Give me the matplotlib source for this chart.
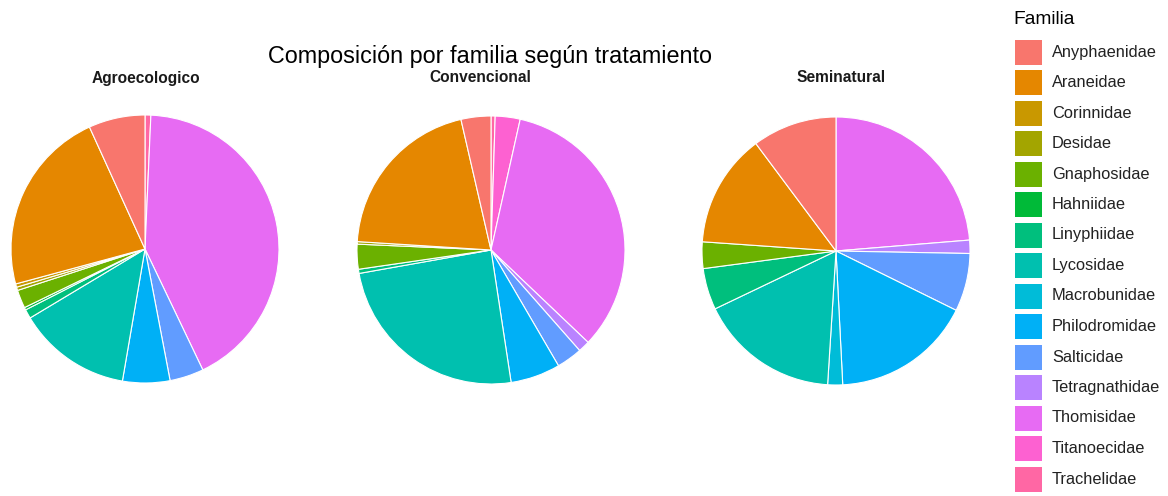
import matplotlib
matplotlib.use("Agg")
import matplotlib.pyplot as plt
from matplotlib.patches import Rectangle

plt.rcParams['font.family'] = ['Liberation Sans', 'DejaVu Sans']

families = ["Anyphaenidae", "Araneidae", "Corinnidae", "Desidae", "Gnaphosidae",
            "Hahniidae", "Linyphiidae", "Lycosidae", "Macrobunidae", "Philodromidae",
            "Salticidae", "Tetragnathidae", "Thomisidae", "Titanoecidae", "Trachelidae"]
colors = ["#F8766D", "#E58700", "#C99800", "#A3A500", "#6BB100", "#00BA38", "#00BF7D",
          "#00C0AF", "#00BCD8", "#00B0F6", "#619CFF", "#B983FF", "#E76BF3", "#FD61D1",
          "#FF67A4"]

treatments = ["Agroecologico", "Convencional", "Seminatural"]

# percentages per family (same order as families)
agroecologico = [6.8, 22.4, 0.4, 0.4, 2.2, 0.3, 1.1, 13.7, 0.0, 5.7, 4.1, 0.0, 42.2, 0.0, 0.7]
convencional = [3.6, 20.4, 0.0, 0.3, 3.0, 0.0, 0.5, 24.6, 0.0, 6.0, 3.1, 1.4, 33.6, 3.0, 0.5]
seminatural = [10.2, 13.7, 0.0, 0.0, 3.2, 0.0, 5.0, 16.9, 1.8, 16.9, 7.0, 1.6, 23.7, 0.0, 0.0]

data = [agroecologico, convencional, seminatural]

W, H = 1168, 496
fig = plt.figure(figsize=(W / 100, H / 100), dpi=100)
fig.patch.set_facecolor("white")

centers = [(145, 249), (491, 250), (836, 251)]
label_x = [146, 480, 841]
R = 134

for vals, (cx, cy), name, lx in zip(data, centers, treatments, label_x):
    ax = fig.add_axes([(cx - R) / W, 1 - (cy + R) / H, 2 * R / W, 2 * R / H])
    # ggplot stacking: last level first, clockwise from 12 o'clock
    v = [x for x in vals[::-1]]
    c = colors[::-1]
    vv = [x for x in v if x > 0]
    cc = [ci for x, ci in zip(v, c) if x > 0]
    ax.pie(vv, colors=cc, startangle=90, counterclock=False, radius=1,
           wedgeprops=dict(edgecolor="white", linewidth=0.8))
    ax.set_xlim(-1, 1)
    ax.set_ylim(-1, 1)
    ax.set_aspect("equal")
    ax.axis("off")
    fig.text(lx / W, 1 - 78 / H, name, ha="center", va="center",
             fontsize=11.2, fontweight="bold", color="#1a1a1a")

fig.text(490 / W, 1 - 56 / H, "Composición por familia según tratamiento",
         ha="center", va="center", fontsize=16.8, color="black")

# legend
fig.text(1013 / W, 1 - 20 / H, "Familia", ha="left", va="center", fontsize=13.8,
         color="black")
lax = fig.add_axes([0, 0, 1, 1])
lax.set_xlim(0, W)
lax.set_ylim(H, 0)
lax.axis("off")
for i, (fam, col) in enumerate(zip(families, colors)):
    yc = 52 + i * 30.5
    lax.add_patch(Rectangle((1015, yc - 12.5), 27, 25, facecolor=col, edgecolor="none"))
    lax.text(1052, yc, fam, ha="left", va="center", fontsize=11.8, color="#222222")

fig.savefig("out.png", dpi=100, facecolor="white")
